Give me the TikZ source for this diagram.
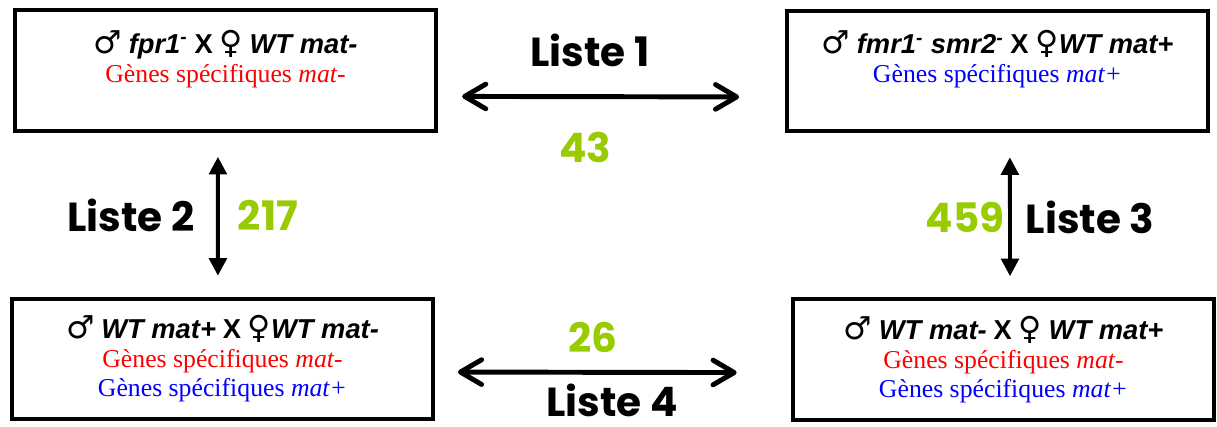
\documentclass[tikz,border=0pt]{standalone}
\usepackage{fontspec}
\setmainfont{Liberation Serif}
\newfontfamily\crossfont{Liberation Sans}
\newfontfamily\sexfont{DejaVu Sans}
\newfontfamily\listfont{Poppins}
\usetikzlibrary{arrows.meta}
\definecolor{nbgreen}{RGB}{153,204,0}
\newcommand{\msym}{{\sexfont\fontsize{18}{17}\selectfont ♂}}
\newcommand{\fsym}{{\sexfont\fontsize{18}{17}\selectfont ♀}}
\newcommand{\strain}[1]{{\crossfont\bfseries\itshape #1}}
\newcommand{\crossx}{{\crossfont\bfseries X}}
\newcommand{\genes}[2]{\textcolor{#1}{Gènes spécifiques \textit{#2}}}

\begin{document}
\begin{tikzpicture}[x=0.567pt,y=-0.567pt,
    box/.style={draw,line width=2.2pt,inner sep=0pt,outer sep=0pt,minimum width=239pt,minimum height=68.5pt,align=center,font=\fontsize{14.6}{16.5}\selectfont},
    harrow/.style={{Straight Barb[round,length=12pt,width=14pt]}-{Straight Barb[round,length=12pt,width=14pt]},line width=2.8pt,line cap=round},
    varrow/.style={{Triangle[length=10pt,width=10pt]}-{Triangle[length=10pt,width=10pt]},line width=2.2pt},
    liste/.style={inner sep=0pt,font=\listfont\bfseries\fontsize{23}{26}\selectfont},
    nb/.style={liste,text=nbgreen}]
    \useasboundingbox[fill=white] (0,0) rectangle (1217,426);
			\node[box] (tl) at (225.5,70.5) {{\fontsize{15.5}{16.5}\selectfont\msym\ \strain{fpr1\textsuperscript{-}} \crossx\ \fsym\ \strain{WT mat-}}\\ \genes{red}{mat-}\\ \mbox{}};
			\node[box] (tr) at (997.5,71) {{\fontsize{15.5}{16.5}\selectfont\msym\ \strain{fmr1\textsuperscript{-} smr2\textsuperscript{-}} \crossx\ \fsym\strain{WT mat+}}\\ \genes{blue}{mat+}\\ \mbox{}};
			\node[box] (bl) at (222.5,359) {{\fontsize{15.5}{16.5}\selectfont\msym\ \strain{WT mat+} \crossx\ \fsym\strain{WT mat-}}\\ \genes{red}{mat-}\\ \genes{blue}{mat+}};
			\node[box] (br) at (1003.5,359.5) {{\fontsize{15.5}{16.5}\selectfont\msym\ \strain{WT mat-} \crossx\ \fsym\ \strain{WT mat+}}\\ \genes{red}{mat-}\\ \genes{blue}{mat+}};
			\draw[harrow] ([xshift=14.7pt,yshift=-14.7pt]tl.east) -- ([xshift=-27pt,yshift=-14.7pt]tr.west);
			\draw[harrow] ([xshift=14pt,yshift=-7.4pt]bl.east) -- ([xshift=-31.8pt,yshift=-7.4pt]br.west);
			\draw[varrow] ([xshift=-4.3pt,yshift=-14.7pt]tl.south) -- ([xshift=-2.6pt,yshift=13pt]bl.north);
			\draw[varrow] ([xshift=7pt,yshift=-14.7pt]tr.south) -- ([xshift=3.7pt,yshift=13pt]br.north);
			\node[liste] (l1) at (590,50) {Liste 1};
			\node[nb]    (n1) at (585,147) {43};
			\node[liste] (l2) at (131,215) {Liste 2};
			\node[nb]    (n2) at (268,215) {217};
			\node[nb]    (n3) at (965,217) {459};
			\node[liste] (l3) at (1090,217) {Liste 3};
			\node[nb]    (n4) at (593,337) {26};
			\node[liste] (l4) at (612,400) {Liste 4};
		\end{tikzpicture}
\end{document}
